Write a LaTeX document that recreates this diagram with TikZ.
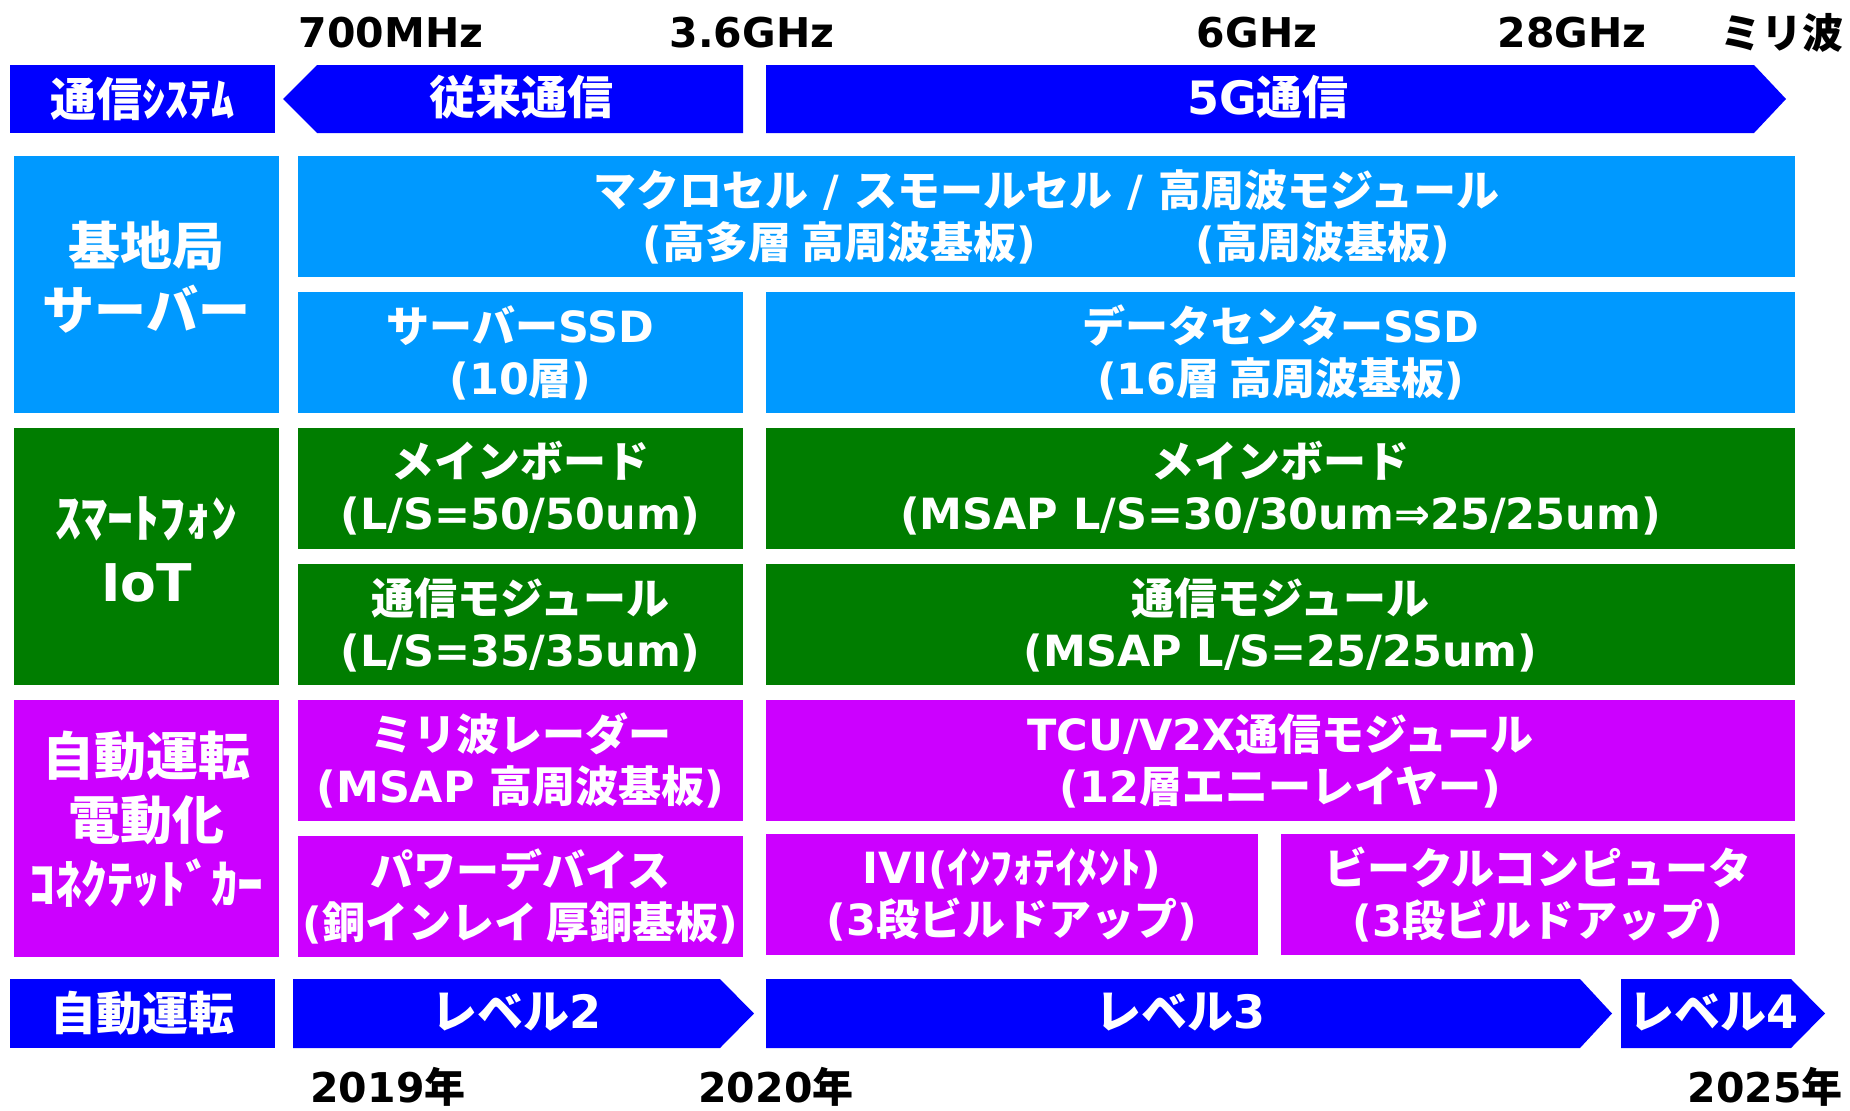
\documentclass[tikz,border=0pt]{standalone}
\usepackage{fontspec}
\setmainfont{Noto Sans CJK JP}
\newfontfamily\latf{DejaVu Sans}
\newcommand\LT[1]{{\latf\bfseries #1}}
\definecolor{hdr}{RGB}{0,0,255}
\definecolor{lb}{RGB}{0,153,255}
\definecolor{gr}{RGB}{0,125,0}
\definecolor{mg}{RGB}{204,0,255}
\begin{document}
\begin{tikzpicture}[x=1pt,y=-1pt,
  bx/.style={inner sep=0pt, outer sep=0pt, text=white, align=center, font=\bfseries\fontsize{43}{52}\selectfont},
  lbl/.style={inner sep=0pt, outer sep=0pt, text=white, align=center, font=\bfseries\fontsize{52}{64}\selectfont},
  hd/.style={inner sep=0pt, outer sep=0pt, text=white, align=center, font=\bfseries\fontsize{46}{52}\selectfont},
  tick/.style={inner sep=0pt, text=black, font=\bfseries\fontsize{41}{48}\selectfont},
  colA/.style={minimum width=445pt, minimum height=121pt},
  colB/.style={minimum width=1029pt, minimum height=121pt},
  side/.style={inner sep=0pt, outer sep=0pt, minimum width=265pt, minimum height=257pt}]
\useasboundingbox (0,0) rectangle (1850,1111);
\fill[white] (0,0) rectangle (1850,1111);

% top frequency labels
\node[tick] (f1) at (391,33) {\LT{700MHz}};
\node[tick] (f2) at (752,33) {\LT{3.6GHz}};
\node[tick] (f3) at (1257,33) {\LT{6GHz}};
\node[tick] (f4) at (1572,33) {\LT{28GHz}};
\node[tick] (f5) at (1782,33) {ミリ波};

% header row
\node[hd, fill=hdr, minimum width=265pt, minimum height=68pt] (sys) at (142.5,99) {通信ｼｽﾃﾑ};
\fill[hdr] (283,99) -- (317,65) -- (743,65) -- (743,133) -- (317,133) -- cycle;
\node[hd] (old) at (521,97) {従来通信};
\fill[hdr] (766,65) -- (1754,65) -- (1786,99) -- (1754,133) -- (766,133) -- cycle;
\node[hd] (g5) at (1268,97) {\LT{5G}通信};

% base station / server
\node[side, fill=lb] (l1) at (146.5,284.5) {};
\node[lbl] (l1t) at (146.5,277) {基地局\\サーバー};
\node[bx, fill=lb, minimum width=1497pt, minimum height=121pt] (mac) at (1046.5,216.5)
  {マクロセル\LT{\ /\ }スモールセル\LT{\ /\ }高周波モジュール\\\LT{(}高多層 高周波基板\LT{)}\hspace{160pt}\LT{(}高周波基板\LT{)}};
\node[bx, fill=lb, colA] (ssd1) at (520.5,352.5) {サーバー\LT{SSD}\\\LT{(10}層\LT{)}};
\node[bx, fill=lb, colB] (ssd2) at (1280.5,352.5) {データセンター\LT{SSD}\\\LT{(16}層 高周波基板\LT{)}};

% smartphone / IoT
\node[side, fill=gr] (l2) at (146.5,556.5) {};
\node[lbl] (l2t) at (146.5,549) {ｽﾏｰﾄﾌｫﾝ\\\LT{IoT}};
\node[bx, fill=gr, colA] (mb1) at (520.5,488.5) {メインボード\\\LT{(L/S=50/50um)}};
\node[bx, fill=gr, colB] (mb2) at (1280.5,488.5) {メインボード\\\LT{(MSAP L/S=30/30um⇒25/25um)}};
\node[bx, fill=gr, colA] (cm1) at (520.5,624.5) {通信モジュール\\\LT{(L/S=35/35um)}};
\node[bx, fill=gr, colB] (cm2) at (1280.5,624.5) {通信モジュール\\\LT{(MSAP L/S=25/25um)}};

% automotive
\node[side, fill=mg] (l3) at (146.5,828.5) {};
\node[lbl] (l3t) at (146.5,819) {自動運転\\電動化\\ｺﾈｸﾃｯﾄﾞｶｰ};
\node[bx, fill=mg, colA] (mr) at (520.5,760.5) {ミリ波レーダー\\\LT{(MSAP }高周波基板\LT{)}};
\node[bx, fill=mg, colB] (tcu) at (1280.5,760.5) {\LT{TCU/V2X}通信モジュール\\\LT{(12}層エニーレイヤー\LT{)}};
\node[bx, fill=mg, colA] (pw) at (520.5,896.5) {パワーデバイス\\\LT{(}銅インレイ 厚銅基板\LT{)}};
\node[bx, fill=mg, minimum width=492pt, minimum height=121pt] (ivi) at (1012,894.5) {\LT{IVI(}ｲﾝﾌｫﾃｲﾒﾝﾄ\LT{)}\\\LT{(3}段ビルドアップ\LT{)}};
\node[bx, fill=mg, minimum width=514pt, minimum height=121pt] (vc) at (1538,894.5) {ビークルコンピュータ\\\LT{(3}段ビルドアップ\LT{)}};

% autonomous driving levels
\node[hd, fill=hdr, minimum width=265pt, minimum height=69pt] (ad) at (142.5,1013.5) {自動運転};
\fill[hdr] (293,979) -- (720,979) -- (754,1013.5) -- (720,1048) -- (293,1048) -- cycle;
\node[hd] (lv2) at (516,1012) {レベル\LT{2}};
\fill[hdr] (766,979) -- (1580,979) -- (1612,1013.5) -- (1580,1048) -- (766,1048) -- cycle;
\node[hd] (lv3) at (1180,1012) {レベル\LT{3}};
\fill[hdr] (1621,979) -- (1791,979) -- (1825,1013.5) -- (1791,1048) -- (1621,1048) -- cycle;
\node[hd] (lv4) at (1713,1012) {レベル\LT{4}};

% years
\node[tick] (y1) at (388,1087) {\LT{2019}年};
\node[tick] (y2) at (776,1087) {\LT{2020}年};
\node[tick] (y3) at (1765,1087) {\LT{2025}年};
\end{tikzpicture}
\end{document}
